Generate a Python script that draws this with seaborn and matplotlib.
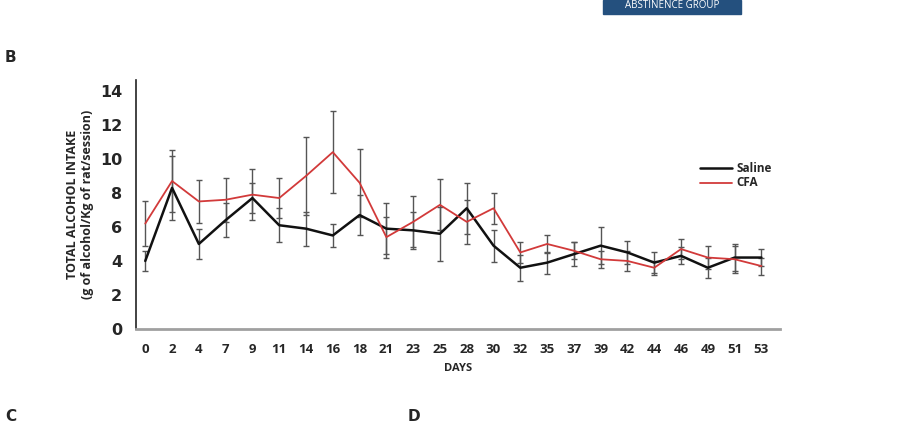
import numpy as np
import pandas as pd
import seaborn as sns
import matplotlib.pyplot as plt
from matplotlib.patches import Rectangle

# Day labels on the x axis
days = ["0", "2", "4", "7", "9", "11", "14", "16", "18", "21", "23", "25",
        "28", "30", "32", "35", "37", "39", "42", "44", "46", "49", "51", "53"]

# Mean alcohol intake (g/kg/session)
saline = [4.0, 8.3, 5.0, 6.4, 7.7, 6.1, 5.9, 5.5, 6.7, 5.9, 5.8, 5.6,
          7.1, 4.9, 3.6, 3.9, 4.4, 4.9, 4.5, 3.9, 4.3, 3.6, 4.2, 4.2]
cfa = [6.2, 8.7, 7.5, 7.6, 7.9, 7.7, 9.0, 10.4, 8.6, 5.4, 6.3, 7.3,
       6.3, 7.1, 4.5, 5.0, 4.6, 4.1, 4.0, 3.6, 4.7, 4.2, 4.1, 3.7]

# Error bar half-widths
saline_err = [0.6, 1.9, 0.9, 1.0, 0.9, 1.0, 1.0, 0.7, 1.2, 1.5, 1.1, 1.6,
              1.5, 0.95, 0.75, 0.65, 0.7, 1.1, 0.7, 0.6, 0.5, 0.6, 0.8, 0.5]
cfa_err = [1.3, 1.8, 1.25, 1.3, 1.5, 1.2, 2.3, 2.4, 2.0, 1.2, 1.5, 1.5,
           1.3, 0.9, 0.6, 0.55, 0.5, 0.5, 0.6, 0.4, 0.6, 0.7, 0.8, 0.5]

pos = np.arange(len(days))
df = pd.DataFrame({
    "pos": np.concatenate([pos, pos]),
    "intake": saline + cfa,
    "group": ["Saline"] * len(days) + ["CFA"] * len(days),
})

sns.set_style("white")
plt.rcParams["font.family"] = ["Open Sans", "DejaVu Sans"]

fig = plt.figure(figsize=(9.2, 4.25), dpi=100)
ax = fig.add_axes([0.148, 0.226, 0.700, 0.586])

# error bars first so the lines sit on top
ax.errorbar(pos, saline, yerr=saline_err, fmt="none", ecolor="#555555",
            elinewidth=1, capsize=2, capthick=1, zorder=1)
ax.errorbar(pos, cfa, yerr=cfa_err, fmt="none", ecolor="#555555",
            elinewidth=1, capsize=2, capthick=1, zorder=1)

sns.lineplot(data=df, x="pos", y="intake", hue="group",
             palette={"Saline": "#111111", "CFA": "#d23a3a"},
             ax=ax, zorder=3, legend=False)
ax.lines[-2].set_linewidth(1.8)
ax.lines[-1].set_linewidth(1.3)

ax.set_xlim(-0.34, 23.7)
ax.set_ylim(0, 14.65)
ax.set_xticks(pos)
ax.set_xticklabels(days, fontsize=9.5, fontweight="bold")
ax.set_yticks(range(0, 15, 2))
ax.set_yticklabels([str(v) for v in range(0, 15, 2)], fontsize=11.5,
                   fontweight="bold", family="DejaVu Sans")
ax.tick_params(length=0, pad=10)
ax.set_xlabel("DAYS", fontsize=8, fontweight="bold", labelpad=5)
ax.set_ylabel("TOTAL ALCOHOL INTAKE\n(g of alcohol/Kg of rat/session)",
              fontsize=9, fontweight="bold", labelpad=4, linespacing=1.25)

for s in ["top", "right"]:
    ax.spines[s].set_visible(False)
ax.spines["left"].set_color("#222222")
ax.spines["left"].set_linewidth(1.2)
ax.spines["bottom"].set_color("#a0a0a0")
ax.spines["bottom"].set_linewidth(2)

# legend drawn by hand as in the original figure
ax.plot([0.875, 0.925], [0.645, 0.645], transform=ax.transAxes,
        color="#111111", lw=1.8)
ax.plot([0.875, 0.925], [0.588, 0.588], transform=ax.transAxes,
        color="#d23a3a", lw=1.3)
ax.text(0.932, 0.645, "Saline", transform=ax.transAxes, fontsize=8.5,
        fontweight="bold", va="center")
ax.text(0.932, 0.588, "CFA", transform=ax.transAxes, fontsize=8.5,
        fontweight="bold", va="center")

# panel letters and cropped header box
fig.text(5 / 920, 1 - 57 / 425, "B", fontsize=11, fontweight="bold",
         family="DejaVu Sans", va="center")
fig.text(5 / 920, 1 - 424 / 425, "C", fontsize=11, fontweight="bold",
         family="DejaVu Sans", va="bottom")
fig.text(408 / 920, 1 - 424 / 425, "D", fontsize=11, fontweight="bold",
         family="DejaVu Sans", va="bottom")
fig.patches.append(Rectangle((603 / 920, 1 - 14 / 425), 138 / 920, 14 / 425,
                             transform=fig.transFigure, color="#24507e"))
fig.text(672 / 920, 1 - 6 / 425, "ABSTINENCE GROUP", color="white",
         fontsize=7, ha="center", va="center")

fig.savefig("out.png", dpi=100)
